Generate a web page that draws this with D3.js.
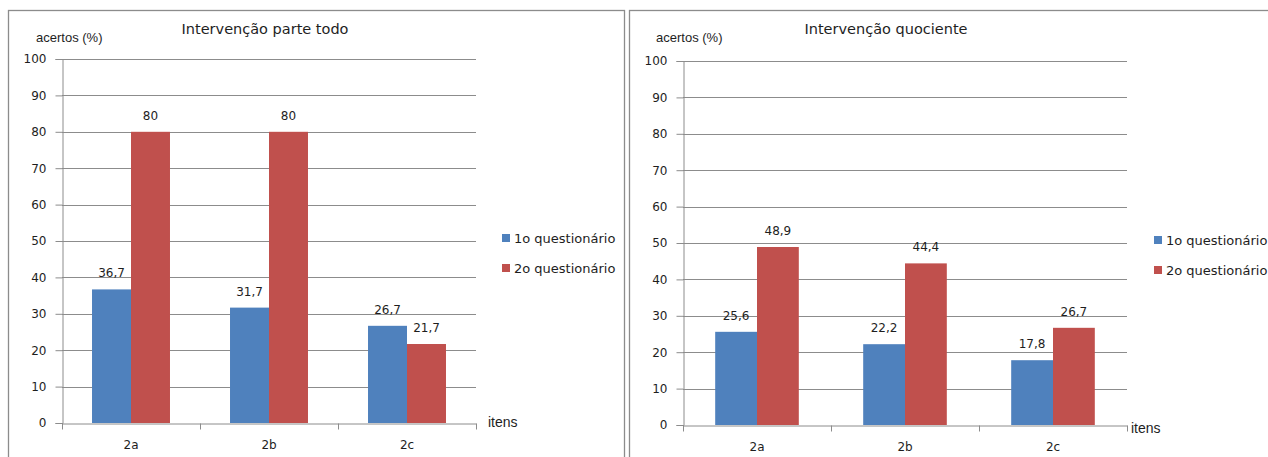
<!DOCTYPE html>
<html><head><meta charset="utf-8">
<script src="https://cdn.jsdelivr.net/npm/d3@7"></script>
<style>body{margin:0;background:#fff}svg{display:block}</style>
</head><body>
<svg id="c" width="1268" height="457"></svg>
<script>
const categories = ["2a", "2b", "2c"];
const seriesNames = ["1o questionário", "2o questionário"];
const parteTodo1 = [36.7, 31.7, 26.7];
const parteTodo2 = [80, 80, 21.7];
const quociente1 = [25.6, 22.2, 17.8];
const quociente2 = [48.9, 44.4, 26.7];
const yTicks = [0, 10, 20, 30, 40, 50, 60, 70, 80, 90, 100];
const titles = ["Intervenção parte todo", "Intervenção quociente"];

const colors = ["#4F81BD", "#C0504D"];
const sans = "'DejaVu Sans', Verdana, sans-serif";
const arial = "'Liberation Sans', Arial, sans-serif";
const ink = "#1e1e1e";
const grey = "#8c8c8c";
const svg = d3.select("#c");

const panels = [
  {title: titles[0], s1: parteTodo1, s2: parteTodo2,
   box: [8, 10, 616, 460], x0: 62, x1: 476, y0: 423, y1: 59,
   titleX: 265, ylabX: 36, legX: 502, legY: 238, itensX: 488, itensY: 427},
  {title: titles[1], s1: quociente1, s2: quociente2,
   box: [629, 10, 650, 460], x0: 683, x1: 1127, y0: 425, y1: 61,
   titleX: 886, ylabX: 656, legX: 1154, legY: 240, itensX: 1131, itensY: 433}
];

panels.forEach(p => {
  const g = svg.append("g");
  g.append("rect").attr("x", p.box[0] + 0.5).attr("y", p.box[1] + 0.5)
    .attr("width", p.box[2]).attr("height", p.box[3])
    .attr("fill", "#fff").attr("stroke", "#8c8c8c").attr("stroke-width", 1.3);

  const x = d3.scaleBand().domain(categories).range([p.x0, p.x1]);
  const y = d3.scaleLinear().domain([0, 100]).range([p.y0, p.y1]);
  const inner = d3.scaleBand().domain([0, 1]).range([0, x.bandwidth()]).paddingOuter(0.77);

  // gridlines
  g.append("g").selectAll("line").data(yTicks.filter(t => t > 0)).join("line")
    .attr("x1", p.x0).attr("x2", p.x1)
    .attr("y1", d => Math.round(y(d)) + 0.5).attr("y2", d => Math.round(y(d)) + 0.5)
    .attr("stroke", grey).attr("stroke-width", 1);

  // bars and value labels
  const rows = categories.map((c, i) => ({c, v: [p.s1[i], p.s2[i]]}));
  rows.forEach(r => {
    r.v.forEach((v, k) => {
      g.append("rect")
        .attr("x", x(r.c) + inner(k)).attr("width", inner.bandwidth())
        .attr("y", y(v)).attr("height", y(0) - y(v))
        .attr("fill", colors[k]);
      g.append("text")
        .attr("x", x(r.c) + inner(k) + inner.bandwidth() / 2)
        .attr("y", y(v) - 12)
        .attr("text-anchor", "middle").attr("font-family", sans).attr("font-size", 12)
        .attr("fill", ink).text(String(v).replace(".", ","));
    });
  });

  // y axis
  const ya = g.append("g").attr("transform", `translate(${p.x0 + 0.5},0)`)
    .call(d3.axisLeft(y).tickValues(yTicks).tickSize(7).tickPadding(9));
  ya.select(".domain").attr("stroke", grey);
  ya.selectAll(".tick line").attr("stroke", grey);
  ya.selectAll("text").attr("font-family", sans).attr("font-size", 12).attr("fill", ink);

  // x axis
  const xa = g.append("g").attr("transform", `translate(0,${Math.round(p.y0) + 0.5})`)
    .call(d3.axisBottom(x).tickSize(0).tickPadding(17));
  xa.select(".domain").attr("stroke", grey);
  xa.selectAll("text").attr("font-family", sans).attr("font-size", 12).attr("fill", ink);
  xa.append("g").selectAll("line").data(d3.range(categories.length + 1)).join("line")
    .attr("x1", i => p.x0 + i * x.step() + 0.5).attr("x2", i => p.x0 + i * x.step() + 0.5)
    .attr("y1", 0).attr("y2", 6).attr("stroke", grey);

  // titles and axis names
  g.append("text").attr("x", p.titleX).attr("y", 34).attr("text-anchor", "middle")
    .attr("font-family", sans).attr("font-size", 14.5).attr("fill", ink).text(p.title);
  g.append("text").attr("x", p.ylabX).attr("y", 42)
    .attr("font-family", arial).attr("font-size", 13).attr("fill", ink).text("acertos (%)");
  g.append("text").attr("x", p.itensX).attr("y", p.itensY)
    .attr("font-family", arial).attr("font-size", 14).attr("fill", ink).text("itens");

  // legend
  seriesNames.forEach((n, k) => {
    g.append("rect").attr("x", p.legX).attr("y", p.legY + k * 30 - 4)
      .attr("width", 8).attr("height", 8).attr("fill", colors[k]);
    g.append("text").attr("x", p.legX + 12).attr("y", p.legY + k * 30 + 5)
      .attr("font-family", sans).attr("font-size", 13).attr("fill", ink).text(n);
  });
});
</script>
</body></html>
